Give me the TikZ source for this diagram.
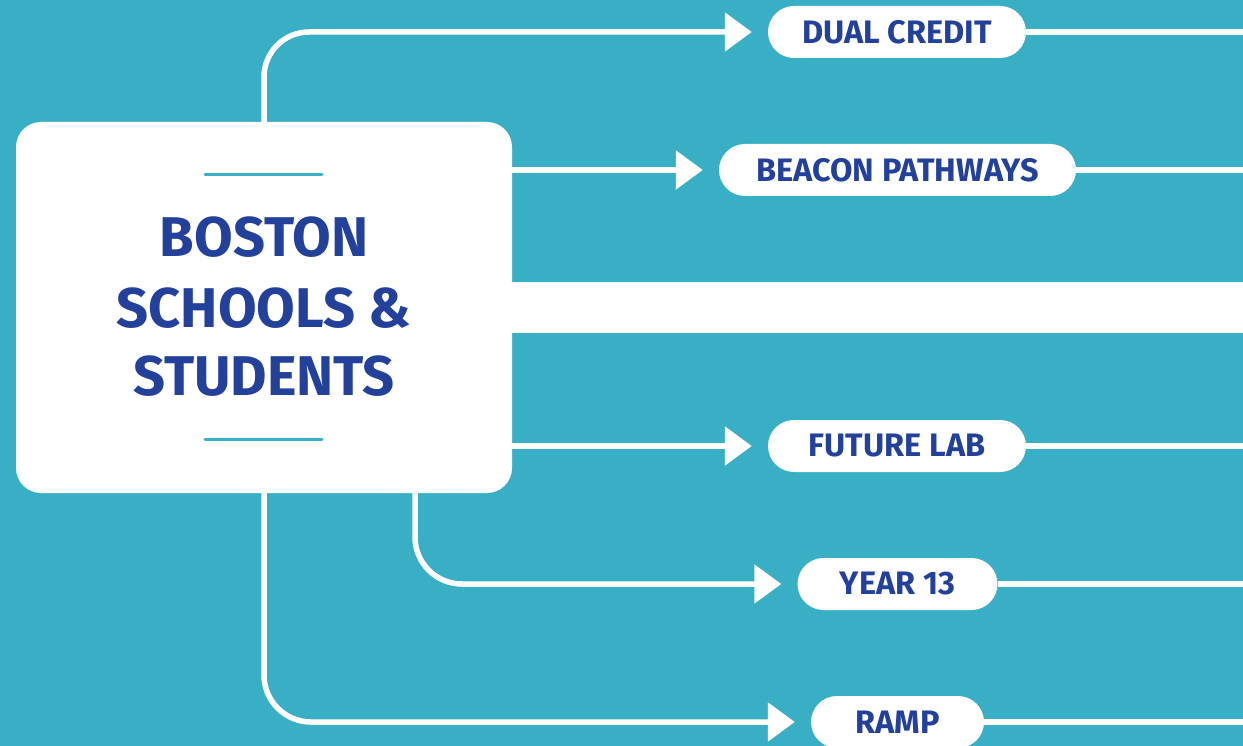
\documentclass[tikz,border=0pt]{standalone}
\usepackage{fontspec}
\setmainfont{Fira Sans}
\usetikzlibrary{arrows.meta}
\definecolor{bg}{HTML}{38AFC5}
\definecolor{ink}{HTML}{23409A}
\begin{document}
\begin{tikzpicture}[x=1pt,y=-1pt,
  conn/.style={draw=white,line width=5.5pt},
  arr/.style={conn,-{Triangle[length=27pt,width=38pt]},shorten >=16pt},
  pill/.style={fill=white,rounded corners=26pt,minimum height=52pt,inner sep=0pt,text=ink,font=\bfseries\fontsize{32.5}{38}\selectfont},
  title/.style={text=ink,font=\bfseries\fontsize{56}{70}\selectfont,anchor=base,inner sep=0pt},
  bigbox/.style={fill=white,rounded corners=25pt,inner sep=0pt},
  accent/.style={draw=bg,line width=3pt,line cap=round}]
\useasboundingbox[fill=bg] (0,0) rectangle (1243,746);

% band
\fill[white] (500,282) rectangle (1243,333);

% main box
\node[bigbox,minimum width=496pt,minimum height=371pt] (box) at (264,307.5) {};
\draw[accent] (205,175) -- (322,175);
\draw[accent] (205,439) -- (322,439);
\node[title] (t1) at (264,257) {BOSTON};
\node[title] (t2) at (264,327) {SCHOOLS \&};
\node[title] (t3) at (264,395) {STUDENTS};

% pills
\node[pill,minimum width=258pt] (dual) at (897,32) {DUAL CREDIT};
\node[pill,minimum width=357pt] (beacon) at (897.5,170) {BEACON PATHWAYS};
\node[pill,minimum width=258pt] (future) at (897,446) {FUTURE LAB};
\node[pill,minimum width=200pt] (year) at (897.5,584) {YEAR 13};
\node[pill,minimum width=173pt] (ramp) at (897.5,722) {RAMP};

% right ends
\coordinate (dualR) at (1243,32);
\coordinate (beaconR) at (1243,170);
\coordinate (futureR) at (1243,446);
\coordinate (yearR) at (1243,584);
\coordinate (rampR) at (1243,722);
\coordinate (yearS) at (415,490);

% connectors
\draw[arr,rounded corners=45pt] (box.north) |- (dual.west);
\draw[arr] (box.east |- beacon.west) -- (beacon.west);
\draw[arr] (box.east |- future.west) -- (future.west);
\draw[arr,rounded corners=47pt] (yearS) |- (year.west);
\draw[arr,rounded corners=47pt] (box.south) |- (ramp.west);

\draw[conn] (dual.east) -- (dualR);
\draw[conn] (beacon.east) -- (beaconR);
\draw[conn] (future.east) -- (futureR);
\draw[conn] (year.east) -- (yearR);
\draw[conn] (ramp.east) -- (rampR);
\end{tikzpicture}
\end{document}
